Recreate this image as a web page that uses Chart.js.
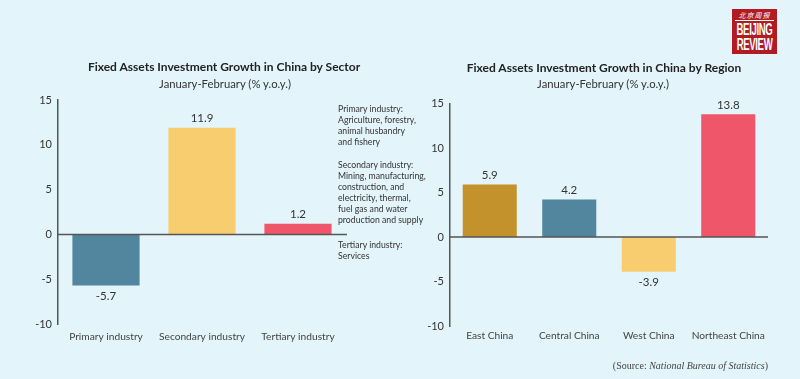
<!DOCTYPE html>
<html>
<head>
<meta charset="utf-8">
<script src="https://cdn.jsdelivr.net/npm/chart.js@4/dist/chart.umd.min.js"></script>
<style>
  html,body{margin:0;padding:0;}
  body{width:800px;height:379px;background:#E3F4FB;position:relative;overflow:hidden;font-family:Lato,"Open Sans",sans-serif;color:#333;}
  canvas{position:absolute;top:0;}
  .t{position:absolute;white-space:nowrap;}
  .title{font-weight:bold;font-size:12px;color:#222;transform:translateX(-50%);}
  .sub{font-size:11.3px;color:#333;transform:translateX(-50%);}
  .note{font-size:8.7px;line-height:11px;color:#333;left:338px;}
  .src{font-family:"Liberation Serif","Times New Roman",serif;font-size:10px;color:#444;right:32px;top:360px;}
  #logo{position:absolute;left:732px;top:9px;width:45px;height:45px;background:#B01C22;color:#fff;text-align:center;overflow:hidden;}
  #logo .cn{font-family:"Noto Sans CJK SC",sans-serif;font-size:7px;line-height:8px;margin-top:2px;letter-spacing:1px;font-style:italic;}
  #logo .ln{height:1px;background:#fff;margin:1px 3px 1px 3px;}
  #logo .en{font-family:"Liberation Sans","DejaVu Sans",sans-serif;font-weight:bold;font-size:16px;line-height:15px;letter-spacing:-0.6px;transform:scaleX(0.6);transform-origin:center;white-space:nowrap;margin:0 -20px;}
</style>
</head>
<body>
<canvas id="cL" width="400" height="379" style="left:0"></canvas>
<canvas id="cR" width="400" height="379" style="left:400px"></canvas>

<div class="t title" style="left:224px;top:59px;">Fixed Assets Investment Growth in China by Sector</div>
<div class="t sub" style="left:225px;top:77px;">January-February (% y.o.y.)</div>
<div class="t title" style="left:604px;top:60px;">Fixed Assets Investment Growth in China by Region</div>
<div class="t sub" style="left:603px;top:77px;">January-February (% y.o.y.)</div>

<div class="t note" style="top:103px;">Primary industry:<br>Agriculture, forestry,<br>animal husbandry<br>and fishery</div>
<div class="t note" style="top:159px;">Secondary industry:<br>Mining, manufacturing,<br>construction, and<br>electricity, thermal,<br>fuel gas and water<br>production and supply</div>
<div class="t note" style="top:239px;">Tertiary industry:<br>Services</div>

<div class="t src">(Source: <i>National Bureau of Statistics</i>)</div>

<div id="logo"><div class="cn">北京周报</div><div class="ln"></div><div class="en">BEIJING</div><div class="en">REVIEW</div></div>

<script>
const sectorCategories = ["Primary industry", "Secondary industry", "Tertiary industry"];
const sectorValues = [-5.7, 11.9, 1.2];
const sectorColors = ["#52869E", "#F8CD6F", "#F0566A"];

const regionCategories = ["East China", "Central China", "West China", "Northeast China"];
const regionValues = [5.9, 4.2, -3.9, 13.8];
const regionColors = ["#C4922D", "#52869E", "#F8CD6F", "#F0566A"];

const yTicks = [-10, -5, 0, 5, 10, 15];

const FONT = "Lato, 'Open Sans', sans-serif";

const decor = {
  id: 'decor',
  afterDatasetsDraw(chart, args, opts) {
    const ctx = chart.ctx;
    const ca = chart.chartArea;
    const y0 = chart.scales.y.getPixelForValue(0);
    ctx.save();
    ctx.strokeStyle = '#555';
    ctx.lineWidth = 1.5;
    ctx.beginPath();
    ctx.moveTo(ca.left, y0);
    ctx.lineTo(ca.right + opts.ext, y0);
    ctx.stroke();
    const meta = chart.getDatasetMeta(0);
    const data = chart.data.datasets[0].data;
    ctx.fillStyle = '#333';
    ctx.font = "11.5px " + FONT;
    ctx.textAlign = 'center';
    ctx.textBaseline = 'middle';
    meta.data.forEach((bar, i) => {
      const v = data[i];
      const y = v >= 0 ? bar.y - 9 : bar.y + 11;
      ctx.fillText(v.toFixed(1), bar.x, y);
    });
    ctx.restore();
  }
};

function makeChart(id, cats, vals, colors, o) {
  return new Chart(document.getElementById(id), {
    type: 'bar',
    data: {
      labels: cats,
      datasets: [{ data: vals, backgroundColor: colors, borderWidth: 0,
        categoryPercentage: 1, barPercentage: o.bp }]
    },
    options: {
      responsive: false,
      animation: false,
      events: [],
      layout: { padding: { left: 0, top: o.top, right: o.right, bottom: o.bottom } },
      plugins: { legend: { display: false }, tooltip: { enabled: false }, title: { display: false },
        decor: { ext: o.ext } },
      scales: {
        x: {
          grid: { display: false, drawTicks: false },
          border: { display: false },
          ticks: { color: '#444', font: { family: FONT, size: 10.2 }, padding: o.xpad, maxRotation: 0, autoSkip: false },
          afterFit(s) { s.height = 30; }
        },
        y: {
          min: -10, max: 15,
          afterBuildTicks(s) { s.ticks = yTicks.map(v => ({ value: v })); },
          grid: { display: false, drawTicks: false },
          border: { display: true, color: '#555', width: 1.5 },
          ticks: { color: '#333', font: { family: FONT, size: 11 }, padding: 6 },
          afterFit(s) { s.width = o.yw; }
        }
      }
    },
    plugins: [decor]
  });
}

makeChart('cL', sectorCategories, sectorValues, sectorColors,
  { bp: 0.70, top: 100, right: 54, bottom: 25, xpad: 7, yw: 58, ext: 1 });
makeChart('cR', regionCategories, regionValues, regionColors,
  { bp: 0.68, top: 103.5, right: 32, bottom: 23, xpad: 4, yw: 50, ext: 0 });
</script>
</body>
</html>
